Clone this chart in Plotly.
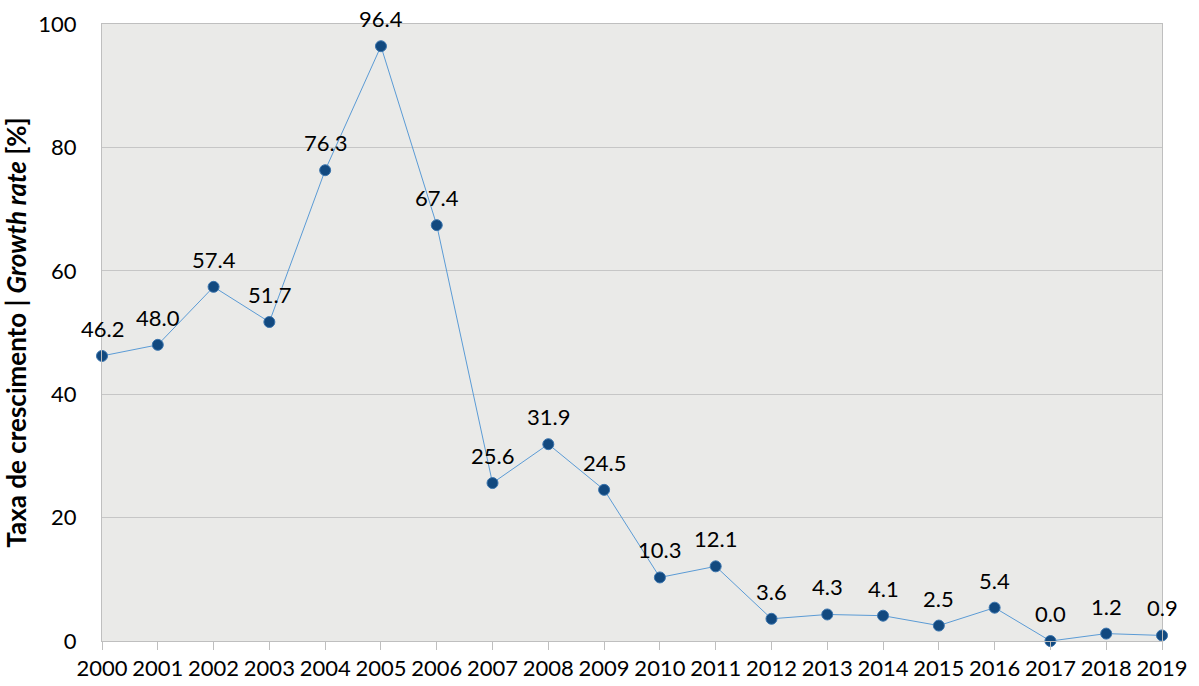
import plotly.graph_objects as go

years = [str(y) for y in range(2000, 2020)]
growth = [46.2, 48.0, 57.4, 51.7, 76.3, 96.4, 67.4, 25.6, 31.9, 24.5,
          10.3, 12.1, 3.6, 4.3, 4.1, 2.5, 5.4, 0.0, 1.2, 0.9]
labels = [f"{v:.1f}" for v in growth]
y_ticks = [0, 20, 40, 60, 80, 100]

FONT = "Lato"

fig = go.Figure()
fig.add_trace(go.Scatter(
    x=years, y=growth,
    mode="lines+markers",
    line=dict(color="#5b9bd5", width=1),
    marker=dict(size=11, color="#12497f", line=dict(color="#3a74ad", width=1)),
    cliponaxis=False,
    hoverinfo="x+y",
))

for i, (yv, lab) in enumerate(zip(growth, labels)):
    fig.add_annotation(
        x=i, y=yv, xref="x", yref="y", text=lab, showarrow=False,
        yanchor="bottom", yshift=12,
        font=dict(family=FONT, size=22, color="#000000"),
    )

fig.update_layout(
    width=1199, height=686,
    margin=dict(l=102, r=37, t=24, b=45),
    paper_bgcolor="white",
    plot_bgcolor="#eaeae8",
    showlegend=False,
    font=dict(family=FONT, size=22, color="#000000"),
)
fig.update_xaxes(
    type="category",
    range=[0, len(years) - 1],
    automargin=False,
    showgrid=False,
    showline=True, linecolor="#bfbfbf", linewidth=1, mirror=True,
    ticks="outside", ticklen=8, tickcolor="#bfbfbf",
    tickfont=dict(family=FONT, size=22),
    zeroline=False,
)
fig.update_yaxes(
    range=[0, 100],
    tickvals=y_ticks,
    automargin=False,
    showgrid=True, gridcolor="#c6c6c6", gridwidth=1,
    showline=True, linecolor="#bfbfbf", linewidth=1, mirror=True,
    ticks="", ticklabelstandoff=20,
    tickfont=dict(family=FONT, size=22),
    zeroline=False,
    title=dict(text="<b>Taxa de crescimento | <i>Growth rate</i> [%]</b>",
               font=dict(family=FONT, size=26), standoff=6),
)

fig.write_html(
    "out.html",
    config={"displayModeBar": False},
    post_script="document.body.style.margin='0px';document.body.style.overflow='hidden';",
)
